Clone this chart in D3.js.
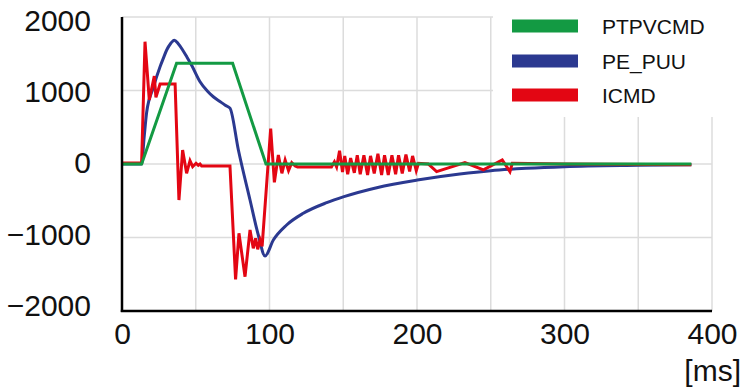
<!DOCTYPE html>
<html><head><meta charset="utf-8">
<script src="https://cdn.jsdelivr.net/npm/d3@7"></script>
<style>body{margin:0;background:#fff;}svg{display:block;font-family:"Liberation Sans",Arial,sans-serif;}</style>
</head><body><svg id="c" width="744" height="392"></svg>
<script>
const seriesNames = ["PTPVCMD", "PE_PUU", "ICMD"];
const seriesColors = ["#139a43", "#2b3990", "#e30613"];
const xTicks = [0, 100, 200, 300, 400];
const yTicks = [-2000, -1000, 0, 1000, 2000];

const ptpvcmdT = [0, 13.3, 37, 75, 97.6, 386];
const ptpvcmdV = [0, 0, 1370, 1370, 0, 0];

const pePuuT = [0, 13.3, 15, 16.7, 21.2, 25.8, 28, 30.3, 33, 35.5, 38, 41, 44, 47.3, 52.9, 58, 61.9, 66.4, 70, 73.2, 78.9, 86.8, 92.4, 97, 102.6, 111.6, 122.9, 138.8, 150.5, 172.7, 200.2, 229, 250, 274, 300, 350, 386];
const pePuuV = [0, 0, 360, 700, 1040, 1324, 1437, 1551, 1640, 1685, 1640, 1555, 1455, 1340, 1120, 990, 915, 850, 800, 760, 190, -490, -966, -1252, -1034, -830, -671, -526, -444, -322, -218, -136, -91, -59, -36, -18, -10];

const icmdT = [0, 13.3, 15.6, 18.5, 21.9, 23, 25.8, 36, 38.6, 41.1, 43.8, 46.1, 47.9, 50.2, 51.7, 52.9, 54, 73.2, 77, 79.3, 83.4, 86.8, 89, 90.6, 92, 93.6, 95, 100.8, 103.3, 106, 108.4, 110.6, 112.9, 115.1, 117.4, 119, 142, 144, 145.5, 147.5, 149.5, 151, 153, 155, 157.5, 159.5, 161.5, 164, 166.5, 168.5, 171, 173.5, 176, 178, 180.5, 183, 185.5, 187.5, 190, 192.5, 195, 197, 199.5, 201, 207.6, 213.3, 232.5, 245, 257.8, 263, 264.6, 300, 386];
const icmdV = [15, 15, 1664, 871, 1197, 907, 1088, 1088, -490, 190, -127, 45, -37, 10, -18, 0, -27, -27, -1569, -943, -1533, -898, -1147, -1011, -1161, -1034, -1120, 483, -249, 122, -127, 54, -91, 18, -27, -40, -40, 30, -40, 180, -110, 110, -140, 80, -120, 120, -140, 120, -150, 110, -130, 140, -150, 120, -150, 120, -140, 120, -130, 130, -100, 110, -90, 10, 0, -104, 18, -80, 54, -104, 10, 0, -10];

const svg = d3.select("#c");
const x = d3.scaleLinear().domain([0, 400]).range([122, 712]);
const y = d3.scaleLinear().domain([-2000, 2000]).range([311, 17]);
const yLabel = d3.scaleLinear().domain([-2000, 2000]).range([305.8, 20.7]);

// grid
const grid = svg.append("g").attr("stroke", "#dcdcdc").attr("stroke-width", 1.5);
d3.range(50, 401, 50).forEach(t => {
  grid.append("line").attr("x1", x(t)).attr("x2", x(t)).attr("y1", y(2000)).attr("y2", y(-2000));
});
[-1000, 0, 1000, 2000].forEach(v => {
  grid.append("line").attr("x1", x(0)).attr("x2", x(400)).attr("y1", y(v)).attr("y2", y(v));
});

// lines
const mk = (T, V) => T.map((t, i) => [t, V[i]]);
const line = d3.line().x(d => x(d[0])).y(d => y(d[1]));
const data = {
  "PTPVCMD": mk(ptpvcmdT, ptpvcmdV),
  "PE_PUU": mk(pePuuT, pePuuV),
  "ICMD": mk(icmdT, icmdV)
};
const blueLine = d3.line().curve(d3.curveMonotoneX).x(d => x(d[0])).y(d => y(d[1]));
svg.append("path").attr("d", blueLine(data["PE_PUU"])).attr("fill", "none")
  .attr("stroke", seriesColors[1]).attr("stroke-width", 3).attr("stroke-linejoin", "round");
svg.append("path").attr("d", line(data["ICMD"])).attr("fill", "none")
  .attr("stroke", seriesColors[2]).attr("stroke-width", 3).attr("stroke-linejoin", "miter");
svg.append("path").attr("d", line(data["PTPVCMD"])).attr("fill", "none")
  .attr("stroke", seriesColors[0]).attr("stroke-width", 3);

// legend background
svg.append("rect").attr("x", 493).attr("y", 0).attr("width", 251).attr("height", 117).attr("fill", "#fff");
const legY = [26, 61, 95];
seriesNames.forEach((n, i) => {
  svg.append("rect").attr("x", 512).attr("y", legY[i] - 6.5).attr("width", 66).attr("height", 13).attr("fill", seriesColors[i]);
  svg.append("text").attr("x", 602).attr("y", legY[i]).attr("dy", "0.36em")
    .attr("font-size", 21).attr("fill", "#111").text(n);
});

// axes lines
svg.append("line").attr("x1", x(0)).attr("x2", x(0)).attr("y1", y(2000)).attr("y2", y(-2000) + 1)
  .attr("stroke", "#000").attr("stroke-width", 2.5);
svg.append("line").attr("x1", x(0) - 1.2).attr("x2", x(400)).attr("y1", y(-2000)).attr("y2", y(-2000))
  .attr("stroke", "#000").attr("stroke-width", 2.5);

// tick labels via axes
const xa = svg.append("g").attr("transform", `translate(0,${y(-2000)})`)
  .call(d3.axisBottom(x).tickValues(xTicks).tickSize(0).tickPadding(12).tickFormat(d3.format("d")));
xa.select(".domain").remove();
xa.selectAll("text").attr("font-size", 30).attr("fill", "#111").attr("font-family", "Liberation Sans, Arial, sans-serif");

const ya = svg.append("g").attr("transform", `translate(${x(0) - 31},0)`)
  .call(d3.axisLeft(yLabel).tickValues(yTicks).tickSize(0).tickPadding(0).tickFormat(d3.format("d")));
ya.select(".domain").remove();
ya.selectAll("text").attr("font-size", 30).attr("fill", "#111").attr("font-family", "Liberation Sans, Arial, sans-serif");

svg.append("text").attr("x", 741).attr("y", 381).attr("text-anchor", "end")
  .attr("font-size", 30).attr("fill", "#111").text("[ms]");
</script></body></html>
